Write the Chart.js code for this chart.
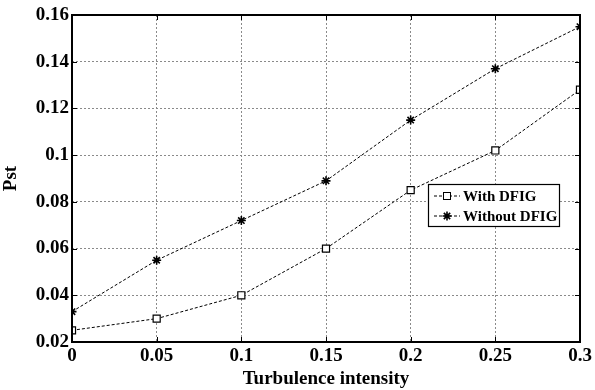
<!DOCTYPE html>
<html>
<head>
<meta charset="utf-8">
<script src="https://cdn.jsdelivr.net/npm/chart.js@4/dist/chart.umd.min.js"></script>
<style>
  html, body { margin: 0; padding: 0; background: #fff; }
  #wrap { width: 595px; height: 390px; }
</style>
</head>
<body>
<div id="wrap"><canvas id="pstChart" width="595" height="390"></canvas></div>
<script>
// data
const turbulence = [0, 0.05, 0.1, 0.15, 0.2, 0.25, 0.3];
const withDfig = [0.025, 0.030, 0.040, 0.060, 0.085, 0.102, 0.128];
const withoutDfig = [0.033, 0.055, 0.072, 0.089, 0.115, 0.137, 0.155];
const xTicks = [0, 0.05, 0.1, 0.15, 0.2, 0.25, 0.3];
const yTicks = [0.02, 0.04, 0.06, 0.08, 0.1, 0.12, 0.14, 0.16];

const FONT = '"Liberation Serif", "Times New Roman", serif';
const fmt = v => String(+(+v).toFixed(2));

// matlab-ish box with inward ticks, plus legend inside the axes
const boxPlugin = {
    id: 'boxPlugin',
    afterDatasetsDraw(chart) {
        const { ctx, chartArea: a, scales } = chart;
        ctx.save();
        ctx.strokeStyle = '#000';
        ctx.lineWidth = 1;
        ctx.beginPath();
        xTicks.forEach(t => {
            const x = Math.round(scales.x.getPixelForValue(t)) + 0.5;
            ctx.moveTo(x, a.bottom); ctx.lineTo(x, a.bottom - 5);
            ctx.moveTo(x, a.top); ctx.lineTo(x, a.top + 5);
        });
        yTicks.forEach(t => {
            const y = Math.round(scales.y.getPixelForValue(t)) + 0.5;
            ctx.moveTo(a.left, y); ctx.lineTo(a.left + 5, y);
            ctx.moveTo(a.right, y); ctx.lineTo(a.right - 5, y);
        });
        ctx.stroke();
        ctx.lineWidth = 2;
        ctx.strokeRect(a.left, a.top, a.right - a.left, a.bottom - a.top);

        // legend
        const lx = 428, ly = 184, lw = 131, lh = 42;
        ctx.fillStyle = '#fff';
        ctx.fillRect(lx, ly, lw, lh);
        ctx.lineWidth = 1.2;
        ctx.strokeStyle = '#000';
        ctx.strokeRect(lx + 0.5, ly + 0.5, lw, lh);
        ctx.font = 'bold 15px ' + FONT;
        ctx.textBaseline = 'middle';
        chart.data.datasets.forEach((ds, i) => {
            const yy = ly + 12 + i * 20;
            ctx.strokeStyle = '#000';
            ctx.lineWidth = 1;
            ctx.setLineDash([3, 2]);
            ctx.beginPath();
            ctx.moveTo(lx + 6, yy); ctx.lineTo(lx + 32, yy);
            ctx.stroke();
            ctx.setLineDash([]);
            if (ds.pointStyle === 'rect') {
                ctx.fillStyle = '#fff';
                ctx.fillRect(lx + 15, yy - 4, 8, 8);
                ctx.strokeRect(lx + 15.5, yy - 3.5, 7, 7);
            } else {
                ctx.lineWidth = ds.pointBorderWidth;
                Chart.helpers.drawPoint(ctx, {
                    pointStyle: ds.pointStyle,
                    radius: ds.pointRadius,
                    borderWidth: ds.pointBorderWidth
                }, lx + 19, yy);
            }
            ctx.fillStyle = '#000';
            ctx.fillText(ds.label, lx + 35, yy + 1);
        });
        ctx.restore();
    }
};

new Chart(document.getElementById('pstChart'), {
    type: 'line',
    data: {
        datasets: [{
            label: 'With DFIG',
            data: turbulence.map((x, i) => ({ x: x, y: withDfig[i] })),
            borderColor: '#000',
            borderWidth: 1,
            borderDash: [3, 2],
            pointStyle: 'rect',
            pointRadius: 5,
            pointBackgroundColor: '#fff',
            pointBorderColor: '#000',
            pointBorderWidth: 1.2,
            tension: 0
        }, {
            label: 'Without DFIG',
            data: turbulence.map((x, i) => ({ x: x, y: withoutDfig[i] })),
            borderColor: '#000',
            borderWidth: 1,
            borderDash: [3, 2],
            pointStyle: 'star',
            pointRadius: 4.5,
            pointBackgroundColor: '#000',
            pointBorderColor: '#000',
            pointBorderWidth: 1.6,
            tension: 0
        }]
    },
    options: {
        responsive: false,
        animation: false,
        layout: { padding: { top: 15, right: 15, left: 0, bottom: 0 } },
        plugins: { legend: { display: false }, tooltip: { enabled: false } },
        scales: {
            x: {
                type: 'linear',
                min: 0,
                max: 0.3,
                afterBuildTicks: s => { s.ticks = xTicks.map(v => ({ value: v })); },
                afterFit: s => { s.height = 48; },
                grid: { color: '#8a8a8a', drawTicks: false },
                border: { display: false, dash: [2, 2] },
                ticks: {
                    color: '#000',
                    padding: 3,
                    font: { family: FONT, size: 19, weight: 'bold' },
                    callback: v => fmt(v)
                },
                title: {
                    display: true,
                    text: 'Turbulence intensity',
                    color: '#000',
                    padding: { top: -4, bottom: 0 },
                    font: { family: FONT, size: 19, weight: 'bold' }
                }
            },
            y: {
                min: 0.02,
                max: 0.16,
                afterBuildTicks: s => { s.ticks = yTicks.map(v => ({ value: v })); },
                afterFit: s => { s.width = 72; },
                grid: { color: '#8a8a8a', drawTicks: false },
                border: { display: false, dash: [2, 2] },
                ticks: {
                    color: '#000',
                    padding: 3,
                    font: { family: FONT, size: 19, weight: 'bold' },
                    callback: v => fmt(v)
                },
                title: {
                    display: true,
                    text: 'Pst',
                    color: '#000',
                    padding: { top: 0, bottom: 0 },
                    font: { family: FONT, size: 19, weight: 'bold' }
                }
            }
        }
    },
    plugins: [boxPlugin]
});
</script>
</body>
</html>
